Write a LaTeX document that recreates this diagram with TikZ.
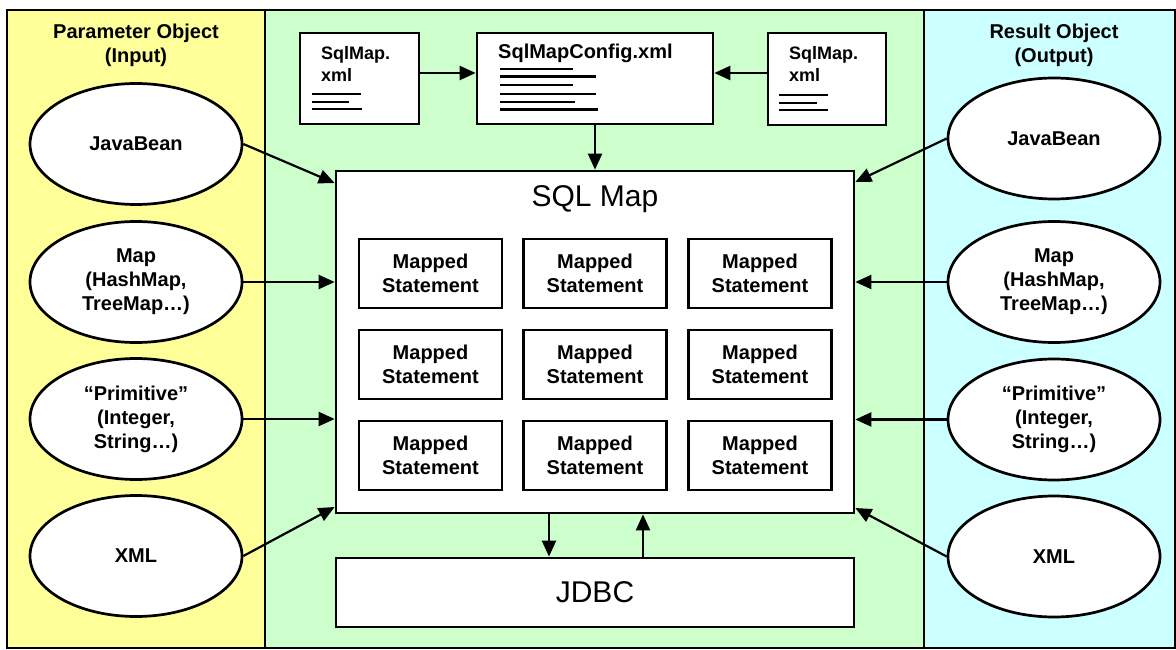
\documentclass[tikz,border=0pt]{standalone}
\usepackage{fontspec}
\setmainfont{Liberation Sans}
\usetikzlibrary{shapes.geometric,arrows.meta}
\definecolor{pyellow}{HTML}{FFFF99}
\definecolor{mgreen}{HTML}{CCFFCC}
\definecolor{rcyan}{HTML}{CCFFFF}
\begin{document}
\begin{tikzpicture}[x=1pt,y=-1pt,
  panel/.style={draw=black,line width=2pt},
  lbl/.style={font=\fontsize{20}{24}\selectfont\bfseries,align=center,inner sep=0pt},
  obj/.style={ellipse,draw=black,line width=2.7pt,fill=white,minimum width=212pt,minimum height=121pt,inner sep=0pt,align=center,font=\fontsize{20}{24}\selectfont\bfseries},
  doc/.style={draw=black,line width=2.7pt,fill=white,inner sep=0pt},
  doctext/.style={anchor=west,inner sep=0pt,align=left,font=\fontsize{18}{22}\selectfont\bfseries},
  docline/.style={line width=2.5pt},
  mstmt/.style={draw=black,line width=2.7pt,fill=white,minimum width=143pt,minimum height=69pt,inner sep=0pt,align=center,font=\fontsize{20}{24}\selectfont\bfseries},
  bigbox/.style={draw=black,line width=2.7pt,fill=white,inner sep=0pt,minimum width=518pt},
  bigtext/.style={inner sep=0pt,font=\fontsize{30}{36}\selectfont},
  arr/.style={line width=2.2pt,-{Triangle[length=16pt,width=14pt]}}]
\useasboundingbox (0,0) rectangle (1176,650);
% panels
\fill[pyellow] (7,10) rectangle (265,648);
\fill[mgreen] (265,10) rectangle (924,648);
\fill[rcyan] (924,10) rectangle (1175,648);
\draw[panel] (7,10) rectangle (1175,648);
\draw[panel] (265,10) -- (265,648);
\draw[panel] (924,10) -- (924,648);
% titles
\node[lbl] (ptitle) at (136,45) {Parameter Object\\(Input)};
\node[lbl] (rtitle) at (1054,45) {Result Object\\(Output)};
% helper coordinates
\coordinate (y73) at (0,73);
\coordinate (y183l) at (0,183);
\coordinate (y507l) at (0,507);
\coordinate (y182r) at (0,182);
\coordinate (y508r) at (0,508);
\coordinate (x549) at (549,0);
\coordinate (x643) at (643,0);
% documents
\node[doc,minimum width=119pt,minimum height=91pt] (docl) at (359.5,78.5) {};
\node[doctext] (docltext) at (321,64) {SqlMap.\\xml};
\draw[docline] (312,94) -- (361,94) (312,102) -- (349,102) (312,109) -- (362,109);
\node[doc,minimum width=236pt,minimum height=91pt] (cfg) at (595,78.5) {};
\node[doctext,font=\fontsize{20}{24}\selectfont\bfseries] (cfgtext) at (498,53) {SqlMapConfig.xml};
\draw[docline] (500,69) -- (573,69) (500,76.5) -- (596,76.5) (500,85) -- (573,85)
  (500,94) -- (596,94) (500,102) -- (575,102) (500,109.5) -- (598,109.5);
\node[doc,minimum width=118pt,minimum height=92pt] (docr) at (827,79) {};
\node[doctext] (docrtext) at (789,64) {SqlMap.\\xml};
\draw[docline] (779,95) -- (828,95) (779,103) -- (817,103) (779,110) -- (828,110);
% SQL Map
\node[bigbox,minimum height=342pt] (sqlmap) at (595,342) {};
\node[bigtext] (sqltitle) at (595,199) {SQL Map};
\foreach \c/\x in {1/430.5,2/595,3/760}
  \foreach \r/\y in {1/273.5,2/364.5,3/455.5}
    \node[mstmt] (m\c\r) at (\x,\y) {Mapped\\Statement};
% JDBC
\node[bigbox,minimum height=69pt,bigtext] (jdbc) at (595,592.5) {JDBC};
% parameter objects
\node[obj] (pj) at (136,144) {JavaBean};
\node[obj] (pm) at (136,282) {Map\\(HashMap,\\TreeMap…)};
\node[obj] (pp) at (136,419) {“Primitive”\\(Integer,\\String…)};
\node[obj] (px) at (136,556) {XML};
% result objects
\node[obj] (rj) at (1054,138.5) {JavaBean};
\node[obj] (rm) at (1054,282) {Map\\(HashMap,\\TreeMap…)};
\node[obj] (rp) at (1054,419.5) {“Primitive”\\(Integer,\\String…)};
\node[obj] (rx) at (1054,556.5) {XML};
% connectors
\draw[arr] (docl.east |- y73) -- (cfg.west |- y73);
\draw[arr] (docr.west |- y73) -- (cfg.east |- y73);
\draw[arr] (cfg.south) -- (sqlmap.north);
\draw[arr] (pj.east) -- (sqlmap.west |- y183l);
\draw[arr] (pm.east) -- (sqlmap.west |- pm.east);
\draw[arr] (pp.east) -- (sqlmap.west |- pp.east);
\draw[arr] (px.east) -- (sqlmap.west |- y507l);
\draw[arr] (rj.west) -- (sqlmap.east |- y182r);
\draw[arr] (rm.west) -- (sqlmap.east |- rm.west);
\draw[arr] (rp.west) -- (sqlmap.east |- rp.west);
\draw[arr] (rx.west) -- (sqlmap.east |- y508r);
\draw[arr] (sqlmap.south -| x549) -- (jdbc.north -| x549);
\draw[arr] (jdbc.north -| x643) -- (sqlmap.south -| x643);
\end{tikzpicture}
\end{document}
